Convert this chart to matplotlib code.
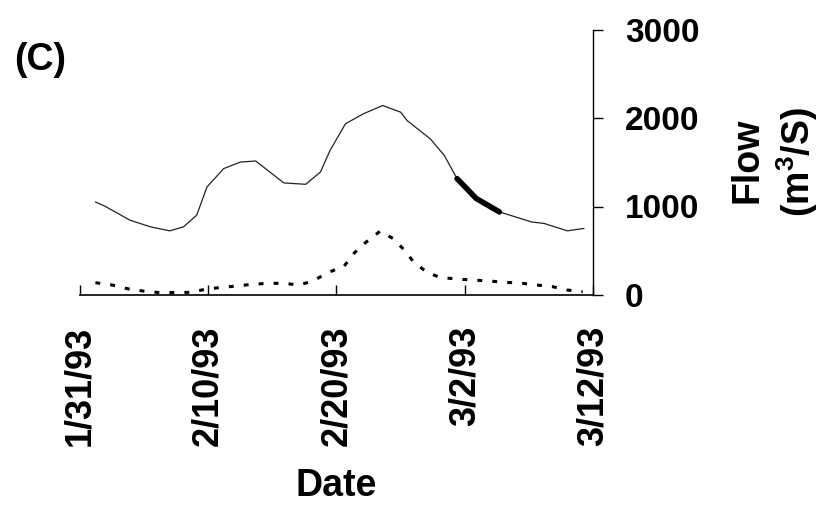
import matplotlib
matplotlib.use("Agg")
import matplotlib.pyplot as plt
import numpy as np

plt.rcParams['font.family'] = ['Liberation Sans', 'DejaVu Sans']
plt.rcParams['font.weight'] = 'bold'
plt.rcParams['mathtext.fontset'] = 'custom'
plt.rcParams['mathtext.rm'] = 'Liberation Sans:bold'
plt.rcParams['mathtext.bf'] = 'Liberation Sans:bold'
plt.rcParams['mathtext.it'] = 'Liberation Sans:bold'
plt.rcParams['mathtext.default'] = 'rm'

# Days since 1/31/93
flow_days = [1.2, 1.95, 3.9, 5.5, 7.0, 8.07, 9.1, 9.9, 11.2, 12.5, 13.7, 14.8, 15.9,
             17.6, 18.75, 19.5, 20.7, 22.1, 23.6, 25.0, 25.5, 27.3, 28.4, 29.4, 30.9,
             32.7, 35.2, 36.2, 38.0, 39.3]
flow_vals = [1051, 1003, 845, 770, 725, 770, 902, 1220, 1428, 1502, 1514, 1390, 1266,
             1251, 1390, 1634, 1935, 2048, 2141, 2066, 1972, 1766, 1578, 1315, 1090,
             939, 826, 808, 725, 752]

# highlighted sampling period (thick segment)
highlight_start = 29.4
highlight_end = 32.7

dot_days = [1.2, 2.5, 3.8, 4.9, 6.25, 8.6, 9.9, 11.1, 12.2, 13.4, 14.7, 15.9, 17.1,
            18.2, 19.3, 20.6, 21.4, 22.3, 23.4, 24.4, 25.3, 26.0, 27.1, 28.1, 29.4,
            30.7, 31.9, 33.2, 34.5, 35.6, 36.85, 38.0, 39.2]
dot_vals = [139, 113, 68, 45, 26, 30, 68, 87, 101, 121, 132, 132, 113, 161, 251, 327,
            477, 597, 721, 639, 507, 375, 251, 199, 180, 169, 158, 143, 132, 113, 94,
            56, 37]

tick_days = [0, 10, 20, 30, 40]
tick_labels = ['1/31/93', '2/10/93', '2/20/93', '3/2/93', '3/12/93']
y_ticks = [0, 1000, 2000, 3000]

fig = plt.figure(figsize=(8.2, 5.09), dpi=100)
ax = fig.add_axes([80/820, 1-295/509, (593-80)/820, (295-29.5)/509])

fd = np.array(flow_days)
fv = np.array(flow_vals)
ax.plot(fd, fv, color='#222222', lw=0.9, solid_capstyle='round')
mask = (fd >= highlight_start) & (fd <= highlight_end)
ax.plot(fd[mask], fv[mask], color='black', lw=4.0, solid_capstyle='round')

ax.plot(dot_days, dot_vals, color='black', lw=2.2, linestyle=(0, (1.6, 3.3)),
        clip_on=False)

ax.set_xlim(0, 40)
ax.set_ylim(0, 3000)

ax.spines['top'].set_visible(False)
ax.spines['left'].set_visible(False)
ax.spines['bottom'].set_linewidth(1.2)
ax.spines['right'].set_linewidth(1.0)

ax.yaxis.tick_right()
ax.set_yticks(y_ticks)
ax.set_yticklabels([str(v) for v in y_ticks])
ax.tick_params(axis='y', direction='out', length=7, width=1.0, pad=16,
               labelsize=24, right=True, left=False)

ax.set_xticks(tick_days)
ax.set_xticklabels(tick_labels, rotation=90)
ax.tick_params(axis='x', direction='in', length=7, width=1.0, pad=22,
               labelsize=26)

ax.set_xlabel('Date', fontsize=27, fontweight='bold')
ax.xaxis.set_label_coords(0.5, ((1-486/509) - (1-295/509)) / ((295-29.5)/509))
ax.xaxis.label.set_va('center')

fig.text(747.5/820, 1-160/509, 'Flow', rotation=90, ha='center', va='center',
         fontsize=27, fontweight='bold')
fig.text(797.5/820, 1-162/509, '(m$^3$/S)', rotation=90, ha='center', va='center',
         fontsize=27, fontweight='bold')

fig.text(14/820, 1-59.5/509, '(C)', ha='left', va='center', fontsize=27,
         fontweight='bold')

fig.savefig('out.png', dpi=100)
